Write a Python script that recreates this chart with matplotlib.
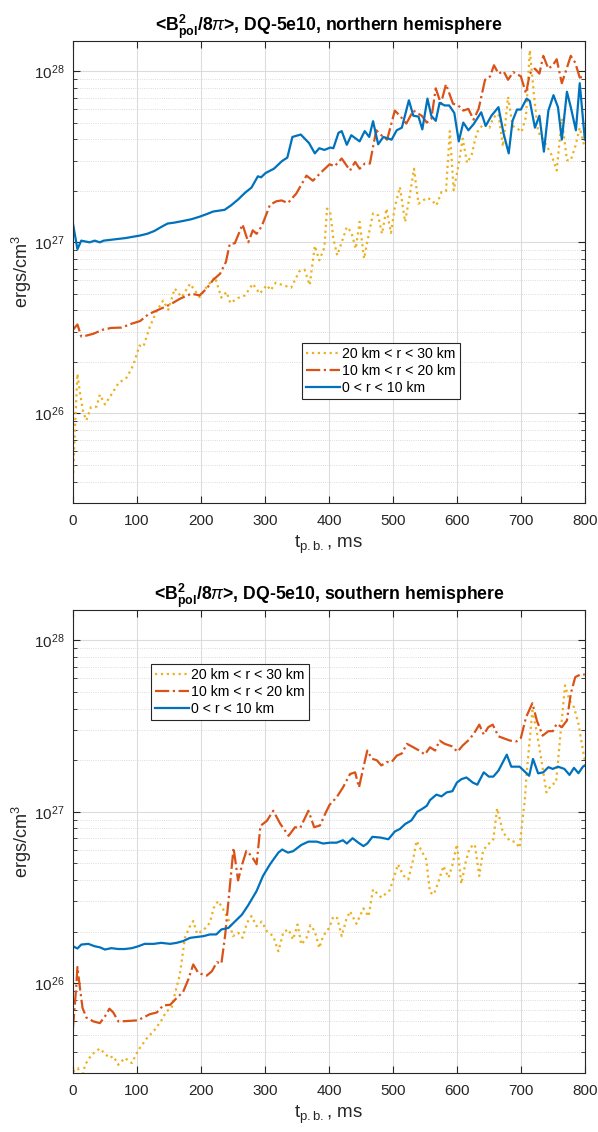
import numpy as np
import matplotlib
matplotlib.use('Agg')
import matplotlib.pyplot as plt
from matplotlib.ticker import LogLocator, NullFormatter, MultipleLocator

plt.rcParams['font.family'] = ['Liberation Sans', 'DejaVu Sans']
plt.rcParams['mathtext.fontset'] = 'custom'
plt.rcParams['mathtext.rm'] = 'Liberation Sans'
plt.rcParams['mathtext.it'] = 'Liberation Sans:italic'
plt.rcParams['mathtext.bf'] = 'Liberation Sans:bold'

# values are log10(ergs/cm^3)

# --- northern hemisphere ---
n_in_t = [0, 7, 13, 26, 34, 42, 48, 82, 105, 116, 127, 138, 148, 158, 172, 185, 198, 209, 219, 237,
          247, 258, 269, 279, 289, 294, 301, 314, 327, 335, 343, 356, 369, 378, 385, 393, 402, 407, 415, 420,
          428, 435, 448, 456, 463, 469, 477, 485, 498, 506, 514, 525, 532, 540, 546, 554, 560, 567, 573, 581,
          588, 596, 603, 610, 618, 626, 638, 645, 654, 665, 673, 681, 687, 694, 700, 709, 714, 722, 729, 736,
          743, 751, 758, 764, 772, 778, 786, 792, 800]
n_in_lg = [27.11, 26.96, 27.01, 27.00, 27.01, 27.00, 27.01, 27.025, 27.04, 27.05, 27.066, 27.09, 27.11, 27.115,
           27.125, 27.135, 27.15, 27.165, 27.18, 27.19, 27.216, 27.25, 27.29, 27.32, 27.386, 27.38, 27.405, 27.43,
           27.476, 27.495, 27.616, 27.63, 27.58, 27.52, 27.55, 27.54, 27.554, 27.55, 27.64, 27.65, 27.57, 27.626,
           27.59, 27.65, 27.616, 27.708, 27.573, 27.616, 27.60, 27.655, 27.67, 27.83, 27.74, 27.735, 27.66, 27.84,
           27.74, 27.71, 27.815, 27.80, 27.80, 27.756, 27.59, 27.70, 27.655, 27.69, 27.76, 27.68, 27.74, 27.79,
           27.636, 27.52, 27.71, 27.776, 27.776, 27.84, 27.826, 27.67, 27.74, 27.53, 27.77, 27.86, 27.79, 27.60,
           27.88, 27.79, 27.655, 27.93, 27.60]

n_mid_t = [0, 7, 13, 21, 32, 47, 60, 76, 92, 105, 118, 136, 152, 167, 185, 198, 209, 219, 230, 239,
           245, 253, 265, 274, 281, 287, 295, 308, 318, 326, 336, 349, 365, 375, 388, 401, 409, 420, 433, 441,
           448, 456, 464, 474, 482, 491, 503, 511, 521, 532, 545, 553, 560, 567, 575, 583, 594, 602, 610, 618,
           626, 634, 644, 652, 658, 665, 673, 680, 688, 700, 708, 714, 722, 729, 735, 743, 750, 756, 764, 772,
           778, 785, 792, 800]
n_mid_lg = [26.489, 26.52, 26.45, 26.455, 26.466, 26.49, 26.50, 26.502, 26.525, 26.54, 26.58, 26.61, 26.637,
            26.67, 26.70, 26.69, 26.73, 26.78, 26.817, 26.885, 26.99, 26.995, 27.105, 27.00, 27.07, 27.05, 27.094,
            27.22, 27.24, 27.245, 27.23, 27.285, 27.39, 27.36, 27.41, 27.456, 27.445, 27.49, 27.42, 27.47, 27.43,
            27.46, 27.46, 27.655, 27.626, 27.60, 27.77, 27.74, 27.694, 27.77, 27.74, 27.70, 27.72, 27.90, 27.81,
            27.924, 27.81, 27.80, 27.77, 27.78, 27.717, 27.78, 27.95, 27.97, 28.035, 27.986, 28.00, 27.95, 27.995,
            27.97, 27.87, 27.986, 28.015, 27.986, 28.09, 28.015, 28.035, 28.07, 27.93, 28.02, 28.09, 28.05, 27.963,
            27.97]

n_out_t = [0, 3, 7, 11, 16, 21, 28, 37, 42, 50, 60, 71, 84, 94, 104, 110, 120, 131, 141, 149,
           159, 170, 183, 198, 209, 222, 232, 240, 246, 258, 269, 281, 292, 303, 309, 317, 328, 341, 354, 362,
           370, 378, 385, 393, 397, 402, 407, 413, 420, 428, 435, 442, 448, 455, 463, 469, 477, 483, 490, 497,
           503, 511, 519, 526, 533, 540, 553, 560, 568, 576, 583, 589, 595, 602, 609, 616, 623, 631, 636, 642,
           651, 657, 665, 672, 680, 687, 693, 701, 708, 714, 721, 727, 735, 741, 748, 756, 764, 772, 778, 785,
           792, 800]
n_out_lg = [25.618, 25.90, 26.232, 26.12, 26.008, 25.96, 26.037, 26.04, 26.11, 26.053, 26.11, 26.177, 26.21,
            26.28, 26.397, 26.39, 26.505, 26.60, 26.66, 26.606, 26.73, 26.68, 26.758, 26.68, 26.74, 26.797, 26.677,
            26.71, 26.645, 26.675, 26.69, 26.758, 26.70, 26.75, 26.72, 26.764, 26.75, 26.735, 26.832, 26.84, 26.75,
            26.98, 26.895, 26.97, 27.197, 27.18, 27.02, 26.924, 27.00, 27.09, 27.06, 26.963, 27.12, 26.905, 27.06,
            27.17, 27.158, 27.05, 27.197, 27.055, 27.206, 27.323, 27.12, 27.265, 27.43, 27.226, 27.26, 27.25,
            27.216, 27.294, 27.30, 27.65, 27.304, 27.44, 27.606, 27.464, 27.51, 27.64, 27.665, 27.694, 27.67,
            27.73, 27.75, 27.56, 27.85, 27.68, 27.67, 27.645, 27.733, 28.123, 27.84, 27.645, 27.60, 27.56, 27.51,
            27.42, 27.723, 27.48, 27.48, 27.56, 27.67, 27.55]

# --- southern hemisphere ---
s_in_t = [0, 7, 13, 24, 34, 42, 50, 60, 71, 81, 92, 102, 112, 126, 138, 152, 162, 172, 183, 193,
          204, 214, 224, 232, 243, 253, 264, 274, 287, 297, 308, 321, 327, 336, 344, 357, 368, 381, 391, 402,
          412, 422, 428, 437, 446, 454, 460, 468, 480, 493, 503, 511, 519, 529, 538, 545, 553, 558, 568, 576,
          584, 593, 600, 607, 615, 625, 632, 642, 650, 657, 665, 678, 685, 698, 713, 719, 727, 735, 743, 750,
          758, 768, 776, 783, 790, 797, 800]
s_in_lg = [26.216, 26.203, 26.226, 26.23, 26.216, 26.21, 26.197, 26.205, 26.20, 26.20, 26.205, 26.216, 26.23,
           26.23, 26.236, 26.23, 26.236, 26.246, 26.265, 26.27, 26.275, 26.285, 26.285, 26.314, 26.323, 26.36,
           26.40, 26.456, 26.538, 26.626, 26.694, 26.762, 26.78, 26.762, 26.77, 26.807, 26.826, 26.826, 26.815,
           26.82, 26.82, 26.834, 26.815, 26.846, 26.82, 26.80, 26.815, 26.854, 26.85, 26.84, 26.885, 26.90, 26.928,
           26.95, 27.0, 27.015, 27.035, 27.068, 27.10, 27.09, 27.113, 27.12, 27.17, 27.19, 27.20, 27.17, 27.158,
           27.23, 27.205, 27.205, 27.24, 27.333, 27.263, 27.263, 27.21, 27.308, 27.224, 27.23, 27.26, 27.25,
           27.263, 27.25, 27.215, 27.256, 27.225, 27.263, 27.27]

s_mid_t = [0, 5, 7, 11, 15, 21, 32, 42, 50, 57, 63, 71, 84, 100, 110, 120, 131, 141, 152, 162,
           172, 180, 188, 196, 209, 217, 225, 232, 238, 243, 251, 258, 265, 271, 279, 287, 293, 303, 313, 324,
           337, 347, 355, 368, 377, 386, 394, 401, 412, 422, 433, 441, 447, 454, 460, 467, 475, 482, 490, 498,
           506, 514, 522, 532, 541, 550, 558, 566, 573, 581, 592, 601, 609, 619, 627, 635, 642, 649, 656, 665,
           672, 683, 693, 700, 708, 718, 725, 734, 743, 750, 756, 764, 772, 778, 785, 793, 800]
s_mid_lg = [25.739, 25.973, 26.095, 25.97, 25.856, 25.80, 25.778, 25.768, 25.807, 25.852, 25.83, 25.778, 25.78,
            25.784, 25.80, 25.82, 25.83, 25.871, 25.875, 25.914, 25.949, 26.02, 26.11, 26.06, 26.045, 26.07,
            26.123, 26.115, 26.285, 26.48, 26.79, 26.60, 26.70, 26.772, 26.743, 26.694, 26.918, 26.947, 27.006,
            26.93, 26.86, 26.91, 26.905, 27.006, 26.91, 26.92, 26.987, 27.04, 27.084, 27.142, 27.22, 27.23, 27.142,
            27.26, 27.357, 27.31, 27.30, 27.27, 27.29, 27.29, 27.327, 27.34, 27.396, 27.376, 27.357, 27.334,
            27.376, 27.357, 27.415, 27.396, 27.382, 27.35, 27.386, 27.42, 27.458, 27.508, 27.45, 27.493, 27.508,
            27.44, 27.43, 27.415, 27.41, 27.43, 27.55, 27.633, 27.532, 27.444, 27.47, 27.47, 27.513, 27.493,
            27.532, 27.688, 27.785, 27.80, 27.80]

s_out_t = [0, 8, 12, 19, 29, 42, 50, 57, 63, 71, 81, 92, 102, 115, 128, 139, 146, 154, 159, 167,
           175, 182, 188, 194, 204, 214, 220, 227, 235, 243, 250, 258, 265, 272, 279, 287, 295, 303, 313, 321,
           329, 337, 344, 351, 357, 365, 371, 378, 385, 391, 401, 407, 413, 420, 427, 433, 443, 454, 462, 469,
           482, 495, 501, 508, 516, 524, 531, 537, 545, 552, 558, 564, 571, 579, 587, 593, 600, 607, 614, 620,
           628, 635, 641, 649, 657, 663, 672, 683, 691, 698, 703, 706, 709, 718, 725, 733, 740, 748, 755, 761,
           769, 776, 783, 790, 798, 800]
s_out_lg = [25.485, 25.505, 25.42, 25.525, 25.584, 25.62, 25.59, 25.565, 25.575, 25.525, 25.565, 25.535, 25.61,
            25.677, 25.73, 25.788, 25.836, 25.855, 25.934, 26.05, 26.265, 26.327, 26.363, 26.288, 26.31, 26.353,
            26.44, 26.48, 26.43, 26.372, 26.275, 26.295, 26.265, 26.353, 26.392, 26.333, 26.36, 26.304, 26.275,
            26.187, 26.30, 26.314, 26.255, 26.343, 26.226, 26.265, 26.339, 26.304, 26.206, 26.275, 26.327, 26.39,
            26.38, 26.275, 26.37, 26.42, 26.347, 26.437, 26.39, 26.548, 26.50, 26.543, 26.61, 26.694, 26.63,
            26.606, 26.71, 26.83, 26.77, 26.723, 26.53, 26.518, 26.59, 26.684, 26.616, 26.69, 26.81, 26.58, 26.71,
            26.79, 26.81, 26.626, 26.776, 26.81, 26.84, 27.02, 26.88, 26.83, 26.825, 26.79, 26.97, 27.06, 27.22,
            27.59, 27.464, 27.28, 27.113, 27.158, 27.17, 27.415, 27.737, 27.65, 27.61, 27.513, 27.337, 27.30]

labels = ['20 km < r < 30 km', '10 km < r < 20 km', '0 < r < 10 km']
colors = ['#EDB120', '#D95319', '#0072BD']
styles = [':', '-.', '-']
titles = [r'<$\mathbf{B^{2}_{pol}}$/8$\pi$>, DQ-5e10, northern hemisphere',
          r'<$\mathbf{B^{2}_{pol}}$/8$\pi$>, DQ-5e10, southern hemisphere']

panels = [
    [(n_out_t, n_out_lg), (n_mid_t, n_mid_lg), (n_in_t, n_in_lg)],
    [(s_out_t, s_out_lg), (s_mid_t, s_mid_lg), (s_in_t, s_in_lg)],
]
rects = [[0.122, 0.5557, 0.856, 0.408], [0.122, 0.0521, 0.856, 0.409]]
leg_pos = [(0.447, 0.346), (0.152, 0.883)]

fig = plt.figure(figsize=(5.98, 11.32), dpi=100)
tc = '#262626'

for k in range(2):
    ax = fig.add_axes(rects[k])
    for (t, lg), c, ls, lab in zip(panels[k], colors, styles, labels):
        ax.plot(t, 10.0 ** np.array(lg), color=c, ls=ls, lw=1.6, label=lab)
    ax.set_yscale('log')
    ax.set_xlim(0, 800)
    ax.set_ylim(3e25, 1.5e28)
    ax.xaxis.set_major_locator(MultipleLocator(100))
    ax.yaxis.set_major_locator(LogLocator(base=10))
    ax.yaxis.set_minor_locator(LogLocator(base=10, subs=np.arange(2, 10)))
    ax.yaxis.set_minor_formatter(NullFormatter())
    ax.grid(True, which='major', color='#dcdcdc', lw=0.8)
    ax.grid(True, which='minor', axis='y', color='#d0d0d0', lw=0.6, ls=':')
    ax.set_axisbelow(True)
    ax.tick_params(which='both', direction='in', top=True, right=True, colors=tc, labelsize=11)
    ax.tick_params(which='major', length=5, width=0.8)
    ax.tick_params(which='minor', length=3, width=0.6)
    ax.tick_params(axis='x', pad=8)
    ax.tick_params(axis='y', pad=6)
    for sp in ax.spines.values():
        sp.set_color(tc)
        sp.set_linewidth(0.8)
    ax.set_title(titles[k], fontsize=12.7, fontweight='bold', pad=6)
    ax.set_ylabel(r'ergs/cm$^3$', fontsize=13, color=tc, labelpad=0)
    ax.set_xlabel(r't$_{\mathrm{p.b.}}$, ms', fontsize=13.5, color=tc, labelpad=4)
    leg = ax.legend(loc='upper left', bbox_to_anchor=leg_pos[k], borderaxespad=0, fontsize=10.2,
                    handlelength=2.4, handletextpad=0.15, borderpad=0.3, labelspacing=0.2,
                    fancybox=False, framealpha=1, edgecolor='#262626')
    leg.get_frame().set_linewidth(0.8)

fig.savefig('out.png', dpi=100)
